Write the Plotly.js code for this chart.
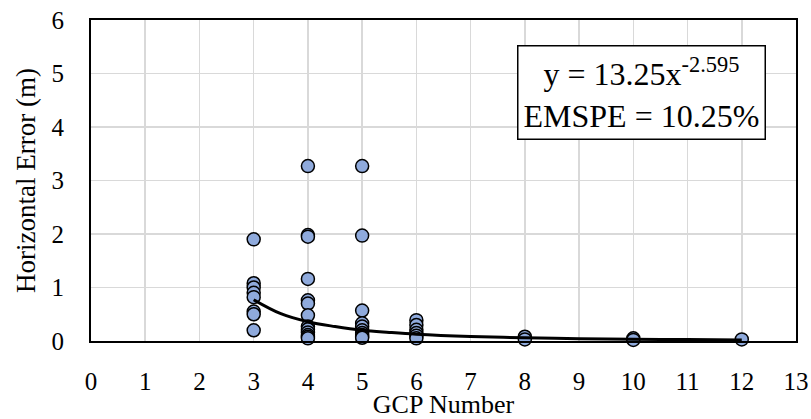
<!DOCTYPE html>
<html><head><meta charset="utf-8">
<script src="https://cdn.plot.ly/plotly-3.0.1.min.js"></script>
<style>html,body{margin:0;padding:0;background:#fff}#chart{width:811px;height:419px}</style>
</head><body><div id="chart"></div>
<script>
// GCP number (x) and horizontal error (m) for each observation
const gcpX = [3,3,3,3,3,3,3,3,
  4,4,4,4,4,4,4,4,4,4,4,4,4,
  5,5,5,5,5,5,5,5,5,5,
  6,6,6,6,6,6,
  8,8,10,10,12];
const errY = [1.90,1.08,1.00,0.90,0.82,0.55,0.50,0.20,
  3.27,1.98,1.95,1.16,0.76,0.70,0.48,0.27,0.22,0.16,0.11,0.08,0.05,
  3.27,1.97,0.57,0.33,0.27,0.20,0.15,0.11,0.08,0.06,
  0.39,0.30,0.21,0.15,0.10,0.05,
  0.08,0.03,0.05,0.02,0.03];
// trend line points
const trendX = [3,3.5,4,4.5,5,5.5,6,7,8,9,10,11,12];
const trendY = [0.77,0.51,0.36,0.27,0.20,0.16,0.127,0.085,0.060,0.044,0.034,0.026,0.021];
const xTicks = [0,1,2,3,4,5,6,7,8,9,10,11,12,13];
const yTicks = [0,1,2,3,4,5,6];
const eqText = 'y = 13.25x<sup>-2.595</sup><br>EMSPE = 10.25%';

const font = 'Liberation Serif, DejaVu Serif, serif';
const data = [
  {x: gcpX, y: errY, type:'scatter', mode:'markers',
   marker:{size:13, color:'#8FAADC', line:{color:'#000', width:1.5}}, showlegend:false, cliponaxis:false},
  {x: trendX, y: trendY, type:'scatter', mode:'lines',
   line:{color:'#000', width:3, shape:'spline'}, showlegend:false}
];
const layout = {
  width:811, height:419,
  margin:{l:91, r:15, t:20, b:78},
  paper_bgcolor:'#fff', plot_bgcolor:'#fff',
  font:{family:font, color:'#000', size:24},
  xaxis:{range:[0,13], tickvals:xTicks, ticktext:xTicks.map(String), showgrid:true, gridcolor:'#d9d9d9', gridwidth:1.5,
    zeroline:false, showline:true, mirror:true, linecolor:'#000', linewidth:2,
    ticks:'outside', ticklen:17, tickcolor:'rgba(0,0,0,0)',
    tickfont:{family:font, size:25}, title:{text:'GCP Number', font:{family:font, size:26}, standoff:0}},
  yaxis:{range:[0,6], tickvals:yTicks, ticktext:yTicks.map(String), showgrid:true, gridcolor:'#d9d9d9', gridwidth:1.5,
    zeroline:false, showline:true, mirror:true, linecolor:'#000', linewidth:2,
    ticks:'outside', ticklen:20, tickcolor:'rgba(0,0,0,0)',
    tickfont:{family:font, size:25}, title:{text:'Horizontal Error (m)', font:{family:font, size:27}, standoff:8}},
  annotations:[{xref:'paper', yref:'paper', x:0.781, y:0.922, xanchor:'center', yanchor:'top',
    text:eqText, showarrow:false, align:'center', font:{family:font, size:32, color:'#000'},
    bgcolor:'#fff', bordercolor:'#000', borderwidth:1.5, borderpad:5}]
};
Plotly.newPlot('chart', data, layout, {displayModeBar:false, staticPlot:true});
</script></body></html>
